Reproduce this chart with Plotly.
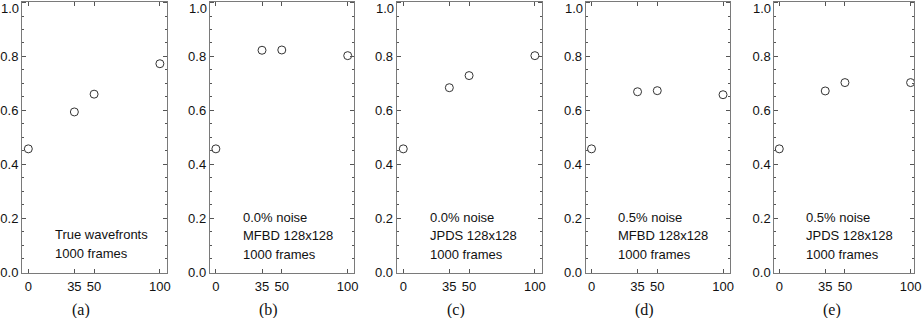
import plotly.graph_objects as go

# ---- data ----
frames = [0, 35, 50, 100]
vals_a = [0.457, 0.594, 0.660, 0.773]
vals_b = [0.457, 0.823, 0.824, 0.803]
vals_c = [0.457, 0.684, 0.729, 0.803]
vals_d = [0.457, 0.669, 0.673, 0.658]
vals_e = [0.457, 0.672, 0.703, 0.703]
series = [vals_a, vals_b, vals_c, vals_d, vals_e]
panel_labels = ["(a)", "(b)", "(c)", "(d)", "(e)"]
panel_texts = [
    ["True wavefronts", "1000 frames"],
    ["0.0% noise", "MFBD 128x128", "1000 frames"],
    ["0.0% noise", "JPDS 128x128", "1000 frames"],
    ["0.5% noise", "MFBD 128x128", "1000 frames"],
    ["0.5% noise", "JPDS 128x128", "1000 frames"],
]
x_ticks = [0, 35, 50, 100]
y_ticks = [0.0, 0.2, 0.4, 0.6, 0.8, 1.0]
y_ticktext = ["0.0", "0.2", "0.4", "0.6", "0.8", "1.0"]

# ---- layout geometry (pixels) ----
W, H = 922, 318
px_domains = [(22, 166.6), (209.8, 354.3), (396.7, 541.6), (585.6, 730.0), (774.3, 914.0)]
x_ranges = [(-4.8, 105.1), (-4.6, 105.0), (-5.0, 105.1), (-4.5, 105.3), (-3.8, 102.6)]
y_top_px, y_bot_px = 1.5, 272.5
ydom = [1 - y_bot_px / H, 1 - y_top_px / H]

fig = go.Figure()
line_col = "#7a7a7a"
tick_col = "#555555"
font_sans = "Liberation Sans, Arial, sans-serif"
font_serif = "Liberation Serif, Times New Roman, serif"

# the top label (1.0) sits at the page edge, so it is placed as a text just below the edge
shown_ticktext = [t if v < 1.0 else "" for v, t in zip(y_ticks, y_ticktext)]
top_label = y_ticktext[-1]

annotations = []
for i, vals in enumerate(series):
    n = "" if i == 0 else str(i + 1)
    xa, ya = "x" + n, "y" + n
    fig.add_trace(go.Scatter(
        x=frames, y=vals, mode="markers", xaxis=xa, yaxis=ya,
        marker=dict(symbol="circle-open", size=8, color="#333333", line=dict(width=1)),
        showlegend=False, hoverinfo="skip"))
    d0, d1 = px_domains[i]
    fig.layout["xaxis" + n] = dict(
        domain=[d0 / W, d1 / W], range=list(x_ranges[i]), anchor=ya,
        tickmode="array", tickvals=x_ticks, ticktext=[str(t) for t in x_ticks],
        ticks="inside", ticklen=4, tickcolor=tick_col, tickwidth=1,
        showline=True, linecolor=line_col, linewidth=1, mirror="ticks",
        showgrid=False, zeroline=False, automargin=False,
        tickfont=dict(family=font_sans, size=13, color="#111111"),
        ticklabelstandoff=2, ticklabeloverflow="allow", fixedrange=True)
    fig.layout["yaxis" + n] = dict(
        domain=ydom, range=[-0.002, 1.004], anchor=xa,
        tickmode="array", tickvals=y_ticks, ticktext=shown_ticktext,
        ticks="inside", ticklen=4, tickcolor=tick_col, tickwidth=1,
        minor=dict(ticks="inside", ticklen=2, tickcolor=tick_col, dtick=0.05, showgrid=False),
        showline=True, linecolor=line_col, linewidth=1, mirror="ticks",
        showgrid=False, zeroline=False, automargin=False,
        tickfont=dict(family=font_sans, size=13, color="#111111"),
        ticklabelstandoff=0, ticklabeloverflow="allow", fixedrange=True)
    annotations.append(dict(
        x=d0 / W, y=1.0, xref="paper", yref="paper", text=top_label,
        showarrow=False, xanchor="right", yanchor="top", xshift=-1, yshift=1,
        font=dict(family=font_sans, size=13, color="#111111")))
    lines = panel_texts[i]
    ys = [0.138, 0.067] if len(lines) == 2 else [0.204, 0.134, 0.066]
    for t, yy in zip(lines, ys):
        annotations.append(dict(
            x=18.8, y=yy, xref=xa, yref=ya, text=t, showarrow=False,
            xanchor="left", yanchor="middle",
            font=dict(family=font_sans, size=13, color="#111111")))
    annotations.append(dict(
        x=40, y=1 - 310 / H, xref=xa, yref="paper", text=panel_labels[i],
        showarrow=False, xanchor="center", yanchor="middle",
        font=dict(family=font_serif, size=16, color="#111111")))

fig.update_layout(
    width=W, height=H, margin=dict(l=0, r=0, t=0, b=0),
    paper_bgcolor="white", plot_bgcolor="white",
    template="none", annotations=annotations)

fig.write_html("out.html", config={"displayModeBar": False},
               post_script="document.body.style.margin='0px';")
